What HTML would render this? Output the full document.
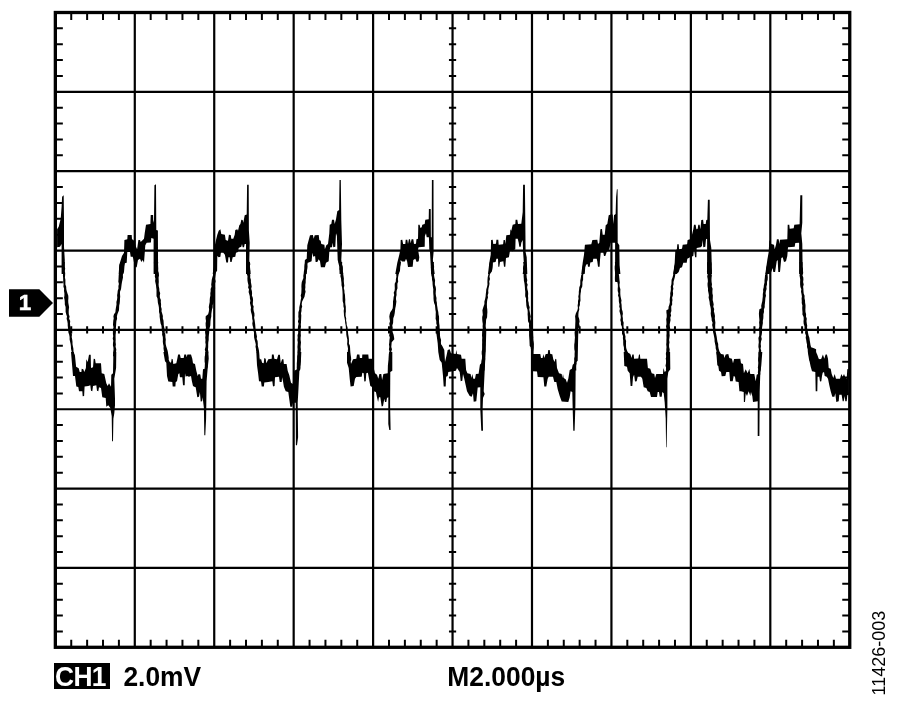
<!DOCTYPE html>
<html><head><meta charset="utf-8"><title>CH1 2.0mV M2.000µs</title>
<style>
html,body{margin:0;padding:0;background:#fff;}
body{width:900px;height:708px;position:relative;overflow:hidden;font-family:"Liberation Sans",sans-serif;color:#000;}
.t{position:absolute;white-space:nowrap;font-weight:bold;font-size:26.4px;line-height:26.4px;}
.s{transform:scaleY(1.045);transform-origin:0 22.35px;}
#ch{left:53.5px;top:662.7px;width:56px;height:26.6px;background:#000;}
#ch span{position:absolute;left:1.6px;top:1.25px;letter-spacing:-0.7px;color:#fff;}
#mv{left:123.4px;top:663.65px;}
#tb{left:447.3px;top:663.65px;}
#one{left:18.8px;top:292.3px;font-size:22.5px;line-height:22.5px;color:#fff;-webkit-text-stroke:0.5px #fff;}
#id{left:878.5px;top:652.9px;font-weight:normal;font-size:18px;line-height:18px;transform:translate(-50%,-50%) rotate(-90deg);}
</style></head><body>
<svg width="900" height="708" viewBox="0 0 900 708" style="position:absolute;left:0;top:0"><path d="M134.79 12.5 V647.3 M214.23 12.5 V647.3 M293.67 12.5 V647.3 M373.11 12.5 V647.3 M452.55 12.5 V647.3 M531.99 12.5 V647.3 M611.43 12.5 V647.3 M690.87 12.5 V647.3 M770.31 12.5 V647.3 M55.35 91.85 H849.75 M55.35 171.20 H849.75 M55.35 250.55 H849.75 M55.35 329.90 H849.75 M55.35 409.25 H849.75 M55.35 488.60 H849.75 M55.35 567.95 H849.75" stroke="#000" stroke-width="2.2" fill="none"/>
<path d="M71.24 12.5 v7.5 M71.24 647.3 v-7.5 M71.24 326.30 v7.2 M87.13 12.5 v7.5 M87.13 647.3 v-7.5 M87.13 326.30 v7.2 M103.01 12.5 v7.5 M103.01 647.3 v-7.5 M103.01 326.30 v7.2 M118.90 12.5 v7.5 M118.90 647.3 v-7.5 M118.90 326.30 v7.2 M150.68 12.5 v7.5 M150.68 647.3 v-7.5 M150.68 326.30 v7.2 M166.57 12.5 v7.5 M166.57 647.3 v-7.5 M166.57 326.30 v7.2 M182.45 12.5 v7.5 M182.45 647.3 v-7.5 M182.45 326.30 v7.2 M198.34 12.5 v7.5 M198.34 647.3 v-7.5 M198.34 326.30 v7.2 M230.12 12.5 v7.5 M230.12 647.3 v-7.5 M230.12 326.30 v7.2 M246.01 12.5 v7.5 M246.01 647.3 v-7.5 M246.01 326.30 v7.2 M261.89 12.5 v7.5 M261.89 647.3 v-7.5 M261.89 326.30 v7.2 M277.78 12.5 v7.5 M277.78 647.3 v-7.5 M277.78 326.30 v7.2 M309.56 12.5 v7.5 M309.56 647.3 v-7.5 M309.56 326.30 v7.2 M325.45 12.5 v7.5 M325.45 647.3 v-7.5 M325.45 326.30 v7.2 M341.33 12.5 v7.5 M341.33 647.3 v-7.5 M341.33 326.30 v7.2 M357.22 12.5 v7.5 M357.22 647.3 v-7.5 M357.22 326.30 v7.2 M389.00 12.5 v7.5 M389.00 647.3 v-7.5 M389.00 326.30 v7.2 M404.89 12.5 v7.5 M404.89 647.3 v-7.5 M404.89 326.30 v7.2 M420.77 12.5 v7.5 M420.77 647.3 v-7.5 M420.77 326.30 v7.2 M436.66 12.5 v7.5 M436.66 647.3 v-7.5 M436.66 326.30 v7.2 M468.44 12.5 v7.5 M468.44 647.3 v-7.5 M468.44 326.30 v7.2 M484.33 12.5 v7.5 M484.33 647.3 v-7.5 M484.33 326.30 v7.2 M500.21 12.5 v7.5 M500.21 647.3 v-7.5 M500.21 326.30 v7.2 M516.10 12.5 v7.5 M516.10 647.3 v-7.5 M516.10 326.30 v7.2 M547.88 12.5 v7.5 M547.88 647.3 v-7.5 M547.88 326.30 v7.2 M563.77 12.5 v7.5 M563.77 647.3 v-7.5 M563.77 326.30 v7.2 M579.65 12.5 v7.5 M579.65 647.3 v-7.5 M579.65 326.30 v7.2 M595.54 12.5 v7.5 M595.54 647.3 v-7.5 M595.54 326.30 v7.2 M627.32 12.5 v7.5 M627.32 647.3 v-7.5 M627.32 326.30 v7.2 M643.21 12.5 v7.5 M643.21 647.3 v-7.5 M643.21 326.30 v7.2 M659.09 12.5 v7.5 M659.09 647.3 v-7.5 M659.09 326.30 v7.2 M674.98 12.5 v7.5 M674.98 647.3 v-7.5 M674.98 326.30 v7.2 M706.76 12.5 v7.5 M706.76 647.3 v-7.5 M706.76 326.30 v7.2 M722.65 12.5 v7.5 M722.65 647.3 v-7.5 M722.65 326.30 v7.2 M738.53 12.5 v7.5 M738.53 647.3 v-7.5 M738.53 326.30 v7.2 M754.42 12.5 v7.5 M754.42 647.3 v-7.5 M754.42 326.30 v7.2 M786.20 12.5 v7.5 M786.20 647.3 v-7.5 M786.20 326.30 v7.2 M802.09 12.5 v7.5 M802.09 647.3 v-7.5 M802.09 326.30 v7.2 M817.97 12.5 v7.5 M817.97 647.3 v-7.5 M817.97 326.30 v7.2 M833.86 12.5 v7.5 M833.86 647.3 v-7.5 M833.86 326.30 v7.2 M55.35 28.37 h7.5 M849.75 28.37 h-7.5 M448.95 28.37 h7.2 M55.35 44.24 h7.5 M849.75 44.24 h-7.5 M448.95 44.24 h7.2 M55.35 60.11 h7.5 M849.75 60.11 h-7.5 M448.95 60.11 h7.2 M55.35 75.98 h7.5 M849.75 75.98 h-7.5 M448.95 75.98 h7.2 M55.35 107.72 h7.5 M849.75 107.72 h-7.5 M448.95 107.72 h7.2 M55.35 123.59 h7.5 M849.75 123.59 h-7.5 M448.95 123.59 h7.2 M55.35 139.46 h7.5 M849.75 139.46 h-7.5 M448.95 139.46 h7.2 M55.35 155.33 h7.5 M849.75 155.33 h-7.5 M448.95 155.33 h7.2 M55.35 187.07 h7.5 M849.75 187.07 h-7.5 M448.95 187.07 h7.2 M55.35 202.94 h7.5 M849.75 202.94 h-7.5 M448.95 202.94 h7.2 M55.35 218.81 h7.5 M849.75 218.81 h-7.5 M448.95 218.81 h7.2 M55.35 234.68 h7.5 M849.75 234.68 h-7.5 M448.95 234.68 h7.2 M55.35 266.42 h7.5 M849.75 266.42 h-7.5 M448.95 266.42 h7.2 M55.35 282.29 h7.5 M849.75 282.29 h-7.5 M448.95 282.29 h7.2 M55.35 298.16 h7.5 M849.75 298.16 h-7.5 M448.95 298.16 h7.2 M55.35 314.03 h7.5 M849.75 314.03 h-7.5 M448.95 314.03 h7.2 M55.35 345.77 h7.5 M849.75 345.77 h-7.5 M448.95 345.77 h7.2 M55.35 361.64 h7.5 M849.75 361.64 h-7.5 M448.95 361.64 h7.2 M55.35 377.51 h7.5 M849.75 377.51 h-7.5 M448.95 377.51 h7.2 M55.35 393.38 h7.5 M849.75 393.38 h-7.5 M448.95 393.38 h7.2 M55.35 425.12 h7.5 M849.75 425.12 h-7.5 M448.95 425.12 h7.2 M55.35 440.99 h7.5 M849.75 440.99 h-7.5 M448.95 440.99 h7.2 M55.35 456.86 h7.5 M849.75 456.86 h-7.5 M448.95 456.86 h7.2 M55.35 472.73 h7.5 M849.75 472.73 h-7.5 M448.95 472.73 h7.2 M55.35 504.47 h7.5 M849.75 504.47 h-7.5 M448.95 504.47 h7.2 M55.35 520.34 h7.5 M849.75 520.34 h-7.5 M448.95 520.34 h7.2 M55.35 536.21 h7.5 M849.75 536.21 h-7.5 M448.95 536.21 h7.2 M55.35 552.08 h7.5 M849.75 552.08 h-7.5 M448.95 552.08 h7.2 M55.35 583.82 h7.5 M849.75 583.82 h-7.5 M448.95 583.82 h7.2 M55.35 599.69 h7.5 M849.75 599.69 h-7.5 M448.95 599.69 h7.2 M55.35 615.56 h7.5 M849.75 615.56 h-7.5 M448.95 615.56 h7.2 M55.35 631.43 h7.5 M849.75 631.43 h-7.5 M448.95 631.43 h7.2" stroke="#000" stroke-width="2" fill="none"/>
<rect x="55.35" y="12.5" width="794.4" height="634.8" fill="none" stroke="#000" stroke-width="3.3"/>
<path d="M118.7 274.0 L119.3 264.7 L122.0 256.0 L124.0 252.7 L124.4 240.0 L127.3 239.3 L127.6 234.9 L131.7 234.9 L132.0 239.3 L133.6 240.0 L136.0 246.7 L137.1 249.3 L138.4 240.0 L140.0 240.0 L140.7 242.0 L142.0 240.7 L144.0 238.7 L144.7 233.3 L146.0 224.7 L150.4 224.0 L150.7 214.9 L153.1 214.9 L153.3 222.7 L154.0 220.0 L154.4 185.3 L156.0 184.3 L156.3 230.0 L157.9 230.4 L158.1 274.0 L153.6 274.0 L153.6 238.7 L151.3 238.0 L150.9 242.4 L146.7 242.7 L145.3 245.3 L144.0 262.7 L142.7 260.0 L141.3 262.0 L140.0 258.7 L138.0 260.0 L136.7 267.3 L134.9 267.3 L133.3 258.7 L132.7 256.7 L130.7 256.7 L130.0 252.0 L127.3 252.0 L126.7 262.7 L124.7 263.3 L124.0 272.0 L123.3 274.0Z M71.0 352.0 L73.7 352.0 L75.0 356.0 L76.1 366.7 L78.7 368.3 L79.7 372.0 L81.4 372.0 L81.7 368.7 L83.3 369.3 L84.3 372.0 L85.9 368.0 L86.3 359.3 L87.7 362.0 L89.0 354.7 L90.7 354.7 L91.0 368.0 L93.0 367.3 L93.7 358.7 L95.0 358.9 L95.7 363.3 L101.0 363.3 L101.7 373.3 L104.3 374.0 L106.3 383.3 L107.7 386.0 L109.0 383.3 L111.0 386.7 L111.3 374.7 L113.0 373.3 L113.4 352.0 L116.3 352.0 L116.1 368.0 L114.3 378.7 L115.0 398.7 L115.0 405.3 L114.3 413.3 L113.4 418.7 L113.0 441.3 L112.1 441.3 L111.7 416.0 L110.3 408.0 L108.3 405.3 L106.3 406.7 L105.7 398.0 L102.3 397.3 L101.0 388.0 L99.0 387.3 L98.3 391.3 L97.0 390.7 L96.3 385.3 L93.0 386.0 L92.3 391.3 L91.0 390.7 L90.3 385.3 L88.3 386.0 L84.6 386.4 L84.1 396.0 L82.7 396.3 L82.3 391.3 L79.0 391.3 L78.3 386.9 L76.3 386.4 L75.0 376.0 L73.0 376.0 L72.1 365.3Z M57.1 229.3 L58.7 226.7 L60.7 218.7 L61.6 206.7 L62.1 196.7 L63.7 195.3 L64.0 220.0 L64.0 246.7 L64.8 260.0 L64.5 274.0 L61.6 274.0 L61.6 244.0 L60.0 246.7 L57.1 247.3Z M212.7 274.0 L213.7 266.7 L214.0 249.3 L216.0 240.0 L217.3 234.7 L218.7 230.7 L220.4 229.3 L221.3 234.0 L224.9 234.7 L225.7 240.0 L228.0 240.7 L228.9 234.7 L230.7 234.9 L231.3 238.7 L233.3 238.7 L234.7 234.7 L235.3 230.0 L237.3 229.3 L238.0 230.7 L239.3 225.3 L240.4 224.0 L241.3 219.7 L242.7 220.0 L243.3 222.7 L244.7 215.3 L246.7 214.4 L247.1 184.7 L248.7 184.7 L248.9 230.7 L249.7 242.7 L249.3 260.0 L250.7 274.0 L246.0 274.0 L246.0 244.0 L244.7 244.0 L244.0 247.3 L242.7 247.3 L242.0 244.0 L241.3 246.7 L240.0 247.3 L238.7 248.0 L238.0 252.0 L236.0 252.7 L235.3 256.7 L232.7 257.3 L231.6 262.0 L230.3 262.0 L229.7 257.3 L228.4 257.3 L228.0 262.4 L226.3 262.4 L224.9 254.7 L223.3 252.7 L220.9 252.7 L220.4 256.7 L218.7 257.3 L217.3 256.0 L217.1 270.7 L215.3 273.3 L215.1 274.0Z M163.4 352.0 L166.3 352.0 L167.7 357.3 L169.7 362.0 L171.0 362.7 L171.7 358.7 L172.7 359.3 L173.3 364.0 L176.3 363.3 L177.3 358.7 L178.1 354.4 L179.9 354.4 L180.7 358.0 L183.7 358.0 L184.3 354.4 L186.1 354.4 L186.6 357.3 L187.4 354.4 L191.0 354.4 L192.3 358.7 L193.0 363.3 L195.0 364.0 L196.3 370.7 L197.7 376.0 L198.6 374.0 L200.3 374.4 L201.0 378.7 L202.3 378.7 L203.0 369.3 L204.7 368.7 L205.3 352.0 L208.3 352.0 L208.7 358.7 L207.7 368.0 L206.6 381.3 L206.3 405.3 L206.1 418.7 L205.3 435.3 L204.3 435.3 L203.9 408.0 L202.6 397.3 L202.1 401.3 L200.7 401.6 L199.9 392.0 L199.0 396.7 L197.3 397.3 L195.7 387.3 L194.3 386.7 L193.0 386.0 L191.9 381.3 L191.0 376.0 L189.0 376.7 L187.0 376.0 L185.7 376.7 L185.0 373.3 L184.7 385.3 L183.0 385.3 L182.3 377.3 L179.9 377.3 L179.4 373.3 L178.3 374.0 L177.0 381.3 L175.7 382.0 L175.4 386.4 L172.7 386.4 L172.3 382.0 L168.3 381.6 L167.0 376.0 L166.3 362.7 L165.0 361.3Z M304.0 274.0 L304.9 260.0 L306.7 258.7 L307.3 245.3 L308.7 240.0 L310.0 235.3 L312.9 234.9 L313.7 238.7 L314.7 235.3 L318.7 234.9 L319.3 240.0 L320.7 240.7 L321.3 244.0 L324.4 244.7 L324.9 249.3 L326.3 245.3 L328.0 244.0 L329.3 233.3 L329.7 224.7 L331.3 224.0 L332.0 219.7 L334.0 219.7 L334.7 224.0 L336.0 219.3 L337.3 211.3 L339.1 210.0 L339.5 180.0 L340.8 180.0 L341.3 220.0 L342.0 244.0 L341.3 260.0 L343.3 274.0 L339.6 274.0 L339.3 266.7 L337.7 260.0 L336.9 236.0 L336.0 233.3 L335.3 246.7 L333.3 247.3 L332.7 242.7 L332.0 247.3 L330.3 247.3 L329.3 252.0 L328.7 261.3 L326.0 262.7 L324.9 267.3 L320.9 267.3 L320.0 261.3 L318.7 259.3 L317.3 262.0 L315.6 262.0 L315.1 256.0 L313.3 256.7 L312.4 252.7 L311.6 261.3 L308.7 262.4 L307.6 262.7 L306.7 274.0Z M256.3 352.0 L258.6 352.0 L259.7 360.0 L261.0 358.7 L262.1 362.7 L263.7 363.3 L264.3 358.0 L265.7 358.7 L266.3 363.3 L268.3 359.3 L271.7 358.7 L271.9 354.4 L273.7 354.4 L274.3 358.7 L277.0 359.3 L278.3 354.7 L279.9 354.7 L280.7 363.3 L282.1 359.3 L283.4 359.3 L283.9 364.0 L286.6 364.0 L287.7 370.7 L289.3 375.3 L291.0 382.7 L292.7 384.0 L294.3 370.7 L297.0 369.3 L297.7 352.0 L301.3 352.0 L300.7 365.3 L299.4 370.7 L298.3 392.0 L297.7 402.7 L298.1 437.3 L297.0 445.3 L295.9 445.3 L295.7 402.7 L293.0 402.7 L292.3 406.7 L290.3 406.7 L289.0 397.3 L288.3 392.0 L285.7 391.3 L283.9 386.7 L283.0 381.3 L282.1 377.3 L281.7 382.0 L279.7 382.0 L279.0 376.7 L275.0 377.3 L274.6 386.0 L273.0 386.4 L272.3 381.3 L268.3 382.0 L264.3 382.4 L263.9 386.4 L261.7 386.4 L261.0 381.6 L259.0 381.3 L258.1 373.3 L257.0 365.3Z M395.3 274.0 L397.3 262.7 L399.3 254.7 L400.4 249.3 L400.7 240.0 L402.3 239.7 L403.1 244.0 L405.3 244.0 L405.7 239.7 L407.3 239.7 L408.0 244.0 L408.9 239.3 L410.0 239.3 L410.7 243.3 L411.6 239.3 L413.3 239.3 L414.0 244.0 L416.0 243.7 L416.4 239.3 L418.0 238.7 L418.3 224.7 L419.6 224.7 L420.4 228.0 L421.7 227.3 L422.3 224.7 L424.7 224.0 L425.3 219.7 L428.7 219.3 L428.9 209.1 L430.7 209.1 L430.9 237.3 L431.7 237.3 L431.9 180.0 L433.5 180.0 L433.6 252.0 L432.9 260.0 L434.7 274.0 L431.1 274.0 L430.7 265.3 L430.0 252.0 L429.3 249.3 L428.9 237.3 L426.7 237.3 L426.0 233.3 L424.9 236.0 L424.7 246.7 L418.7 247.3 L418.0 249.3 L419.3 257.3 L418.7 261.3 L416.7 262.0 L415.3 258.7 L413.3 260.0 L412.7 266.7 L408.0 266.9 L407.1 261.3 L406.0 258.7 L404.9 261.6 L402.0 261.6 L400.7 260.0 L400.0 270.7 L398.7 274.0Z M347.0 352.0 L349.7 352.0 L351.0 364.0 L353.0 359.3 L356.3 358.7 L357.0 354.4 L359.4 354.4 L359.9 358.0 L362.1 358.0 L362.3 354.4 L368.3 354.4 L368.7 358.7 L371.9 358.7 L373.7 368.0 L375.0 373.3 L377.0 374.7 L378.3 378.7 L379.4 374.0 L381.3 374.0 L382.1 380.0 L383.4 374.0 L387.7 373.3 L387.9 365.3 L389.3 352.0 L392.3 352.0 L392.3 370.7 L390.3 372.0 L390.1 405.3 L390.6 430.0 L389.3 430.0 L388.3 424.0 L388.3 397.3 L387.0 398.0 L386.3 402.0 L385.0 402.0 L384.3 398.7 L383.0 406.0 L381.7 406.4 L380.3 397.3 L379.0 397.3 L378.1 402.0 L377.0 397.3 L375.9 392.0 L373.7 391.3 L371.7 386.7 L370.3 386.0 L369.0 378.7 L367.9 372.7 L366.3 373.3 L365.7 381.3 L364.3 381.6 L363.7 373.3 L362.3 372.7 L361.7 376.7 L356.3 377.1 L355.0 378.7 L353.7 386.0 L350.6 386.4 L349.7 378.7 L348.7 368.0 L347.0 362.7Z M488.0 274.0 L489.3 262.7 L490.7 254.7 L491.1 240.0 L492.7 239.7 L493.3 244.0 L496.0 243.7 L496.4 239.7 L498.3 239.7 L498.7 244.7 L503.1 244.3 L503.6 240.0 L504.9 240.0 L505.3 244.0 L506.3 235.3 L510.0 234.7 L510.4 229.3 L511.3 230.7 L512.7 224.7 L515.3 224.0 L515.6 219.7 L517.3 219.7 L518.0 224.0 L521.3 223.7 L522.7 212.0 L523.1 184.7 L524.9 184.7 L525.3 220.0 L525.6 252.0 L526.7 257.3 L527.3 274.0 L522.7 274.0 L524.0 265.3 L523.1 252.0 L522.7 240.0 L521.3 242.7 L520.7 246.7 L519.3 246.7 L518.7 242.7 L517.7 238.7 L515.6 238.7 L515.3 249.3 L514.0 250.0 L512.7 251.3 L510.0 250.7 L508.9 257.3 L506.0 258.0 L505.3 266.7 L504.0 266.7 L503.3 261.3 L500.0 262.0 L499.3 266.7 L498.3 266.7 L498.0 258.7 L496.4 258.7 L495.6 262.0 L492.7 262.4 L492.0 271.3 L490.0 274.0Z M581.3 274.0 L582.7 262.7 L584.0 254.7 L584.9 244.7 L591.3 244.3 L592.4 240.0 L597.3 239.7 L598.0 244.0 L599.3 242.7 L600.4 229.3 L602.0 229.1 L602.7 234.7 L604.7 234.7 L605.7 225.3 L607.3 224.0 L608.7 215.3 L610.7 214.4 L612.7 214.4 L613.3 224.0 L614.0 215.3 L615.6 214.0 L616.1 197.3 L616.9 189.3 L617.6 189.3 L617.7 242.7 L619.3 245.3 L619.6 265.3 L620.4 274.0 L615.1 274.0 L615.1 242.7 L612.7 242.7 L610.7 242.7 L609.3 249.3 L608.0 250.7 L606.7 252.0 L605.3 256.0 L604.0 256.0 L603.3 252.7 L600.7 252.7 L600.0 260.0 L599.6 266.7 L598.0 266.7 L597.3 261.3 L596.7 258.7 L593.3 258.7 L592.7 262.0 L590.3 262.4 L589.7 266.7 L588.0 266.7 L587.6 264.0 L586.0 264.7 L585.3 266.7 L584.7 274.0Z M673.3 274.0 L674.7 262.7 L675.3 250.7 L676.9 249.3 L677.3 244.3 L678.7 244.3 L679.1 249.3 L682.0 248.7 L682.7 244.7 L687.1 244.3 L687.6 240.0 L690.0 239.3 L692.0 234.7 L693.3 229.3 L694.0 224.7 L695.6 224.7 L696.4 229.3 L697.7 228.7 L698.3 224.7 L699.6 224.7 L700.4 229.3 L701.3 220.0 L703.1 219.7 L703.6 224.0 L705.7 224.0 L706.3 220.0 L707.3 219.7 L707.9 199.7 L709.7 199.7 L710.0 240.0 L711.3 248.0 L712.0 274.0 L707.1 274.0 L707.1 238.7 L706.0 239.3 L705.3 246.7 L703.3 247.3 L702.7 240.0 L702.0 246.0 L700.7 247.3 L696.7 248.0 L696.4 257.3 L695.1 257.3 L694.0 249.3 L693.3 256.0 L690.0 257.3 L687.3 258.7 L686.7 262.7 L683.3 262.7 L682.0 267.3 L680.0 268.0 L678.7 272.0 L676.7 274.0Z M623.7 352.0 L627.0 352.0 L630.3 354.0 L631.7 358.0 L632.3 354.4 L633.7 354.4 L634.1 358.7 L638.3 358.4 L639.0 354.4 L639.9 354.4 L640.3 358.7 L647.0 358.7 L647.9 368.0 L650.3 368.7 L651.7 373.3 L654.3 374.0 L655.0 378.0 L656.3 374.0 L663.0 374.0 L663.4 368.0 L664.7 372.0 L666.1 370.7 L666.3 352.0 L670.1 352.0 L670.3 369.3 L668.3 372.0 L667.4 378.7 L667.4 408.0 L667.0 426.7 L666.6 447.3 L666.1 447.3 L665.7 418.7 L664.7 402.7 L663.7 393.3 L662.3 392.0 L661.7 396.7 L659.7 396.7 L659.0 392.0 L657.7 392.0 L657.0 397.1 L651.0 397.1 L649.7 392.0 L647.7 391.3 L646.3 388.0 L643.7 387.3 L642.3 378.7 L641.0 376.7 L637.7 376.7 L636.7 381.3 L635.0 381.6 L634.1 374.7 L633.0 377.3 L632.3 386.0 L630.6 386.0 L629.7 373.3 L627.7 370.7 L627.0 366.7 L624.3 366.0Z M765.3 274.0 L767.3 260.0 L768.7 252.0 L769.3 240.0 L771.3 244.0 L774.0 244.7 L774.7 249.3 L776.0 244.7 L776.9 239.3 L778.7 239.3 L779.3 244.0 L780.0 239.7 L787.3 239.3 L787.7 224.7 L789.3 224.7 L789.7 228.7 L793.7 228.3 L794.3 224.7 L799.6 224.3 L800.3 195.3 L802.3 195.3 L802.3 222.7 L801.3 233.3 L802.3 244.0 L802.7 274.0 L799.1 274.0 L799.1 242.7 L795.3 242.9 L794.7 246.7 L788.0 247.3 L787.3 256.0 L786.0 261.3 L784.0 262.0 L782.7 257.3 L781.3 258.0 L780.0 272.0 L778.3 272.0 L777.7 260.0 L776.7 261.3 L775.1 272.0 L773.3 272.0 L772.7 268.0 L770.7 273.3 L769.3 274.0Z M716.3 352.0 L719.7 352.0 L721.0 354.0 L723.7 354.4 L724.3 358.0 L725.7 354.4 L728.3 354.0 L729.3 358.0 L731.9 358.7 L733.0 363.3 L734.1 358.9 L740.3 358.7 L741.0 363.3 L743.0 364.0 L743.9 373.3 L745.7 369.3 L747.7 373.3 L749.3 368.7 L750.3 374.0 L754.3 374.0 L755.7 381.3 L756.7 374.7 L758.1 374.0 L758.6 352.0 L762.3 352.0 L761.3 365.3 L760.3 373.3 L759.7 392.0 L759.4 436.0 L757.7 436.0 L757.7 401.3 L753.0 402.0 L752.3 396.0 L751.0 392.0 L750.3 396.0 L748.7 391.3 L747.0 396.0 L745.7 393.3 L745.0 402.0 L743.9 402.0 L743.7 392.0 L741.0 391.3 L739.4 391.3 L738.6 382.0 L735.7 381.6 L735.0 376.7 L733.7 376.0 L732.7 381.3 L730.1 381.3 L729.3 372.0 L726.3 372.0 L725.3 376.0 L721.7 376.3 L721.0 372.0 L719.0 370.7 L718.3 366.0 L717.3 365.3Z M808.7 352.0 L816.0 352.0 L817.3 354.7 L818.7 358.7 L820.0 359.3 L821.3 358.7 L822.9 354.4 L824.3 358.7 L825.6 354.4 L826.9 354.4 L828.0 358.7 L828.7 368.0 L830.7 368.7 L831.7 374.0 L833.3 378.0 L834.7 374.0 L836.0 378.7 L840.0 378.7 L841.3 374.0 L842.7 376.7 L844.0 374.0 L845.3 377.3 L846.7 378.7 L847.3 369.3 L848.7 368.7 L848.7 394.7 L847.3 395.3 L846.7 401.3 L845.3 401.3 L844.7 396.0 L843.7 401.3 L842.7 401.3 L841.6 394.7 L839.3 394.7 L838.7 401.3 L836.3 402.0 L835.3 393.3 L834.4 396.7 L832.3 396.7 L830.7 391.3 L829.3 385.3 L828.0 378.7 L826.7 376.7 L824.7 376.0 L824.0 372.0 L822.7 372.7 L822.0 376.0 L821.3 381.3 L820.0 381.6 L819.3 376.7 L817.6 376.7 L817.3 391.3 L815.7 391.3 L815.3 372.0 L812.0 371.3 L810.7 366.7 L809.3 360.0Z M436.3 332.7 L439.7 332.7 L440.3 343.3 L442.3 346.0 L444.3 350.0 L445.0 362.0 L446.6 355.3 L447.7 350.0 L449.7 349.3 L451.0 353.3 L455.7 354.0 L456.3 350.0 L457.0 354.0 L461.0 354.7 L461.7 358.7 L465.3 358.7 L466.1 370.0 L467.4 373.3 L470.6 374.0 L471.4 378.0 L472.3 374.0 L473.3 378.7 L475.0 378.7 L475.9 374.0 L478.6 373.7 L479.9 364.7 L481.7 362.7 L482.3 351.3 L482.6 330.0 L486.3 330.0 L485.7 351.3 L484.7 370.0 L483.7 391.3 L484.7 394.0 L483.0 398.0 L482.6 410.0 L483.0 430.7 L481.3 430.7 L480.3 409.3 L480.3 387.3 L477.7 387.6 L476.3 401.3 L473.7 401.7 L473.0 393.3 L471.7 396.7 L469.7 396.0 L467.0 391.3 L465.7 385.3 L464.3 378.7 L463.0 374.0 L462.3 380.7 L460.7 381.3 L459.7 372.0 L457.0 368.0 L455.9 370.7 L453.0 371.3 L448.3 372.0 L447.7 376.0 L446.1 376.7 L445.7 386.4 L443.7 386.4 L443.0 376.0 L441.7 362.7 L439.7 360.0 L438.3 352.0 L437.7 343.3Z M529.0 330.0 L533.0 330.0 L533.7 347.3 L533.0 354.0 L540.3 354.0 L541.0 358.0 L542.6 358.0 L543.4 354.0 L544.3 358.0 L545.7 354.0 L547.7 354.0 L548.3 350.0 L549.7 350.0 L550.3 354.0 L552.3 354.3 L553.3 359.3 L554.6 362.0 L555.4 358.7 L556.3 359.3 L557.0 368.0 L559.0 373.3 L561.7 374.0 L562.3 378.0 L563.0 374.0 L563.7 378.0 L565.7 379.3 L567.0 382.7 L568.3 378.7 L569.7 370.0 L571.9 368.7 L572.7 364.7 L574.6 363.3 L575.0 330.0 L578.3 330.0 L577.7 360.7 L575.7 362.7 L575.4 405.3 L574.6 430.7 L573.3 430.7 L572.7 409.3 L572.3 392.0 L570.6 391.3 L569.7 397.3 L568.3 402.0 L561.7 401.6 L559.7 396.0 L557.7 389.3 L556.3 382.0 L554.3 382.0 L553.0 376.7 L548.7 376.7 L547.7 378.7 L546.3 386.4 L544.3 386.4 L543.4 377.3 L537.7 377.1 L537.0 371.6 L533.0 371.3 L532.3 356.7 L531.0 347.3 L529.7 346.0Z" fill="#000" stroke="#000" stroke-width="0" stroke-linejoin="round"/>
<path d="M62.2 262.0 L64.8 262.0 L64.7 264.2 L64.7 266.5 L65.2 268.7 L64.7 270.9 L65.2 273.1 L65.1 275.4 L64.9 277.6 L65.4 279.8 L65.4 282.1 L65.4 284.4 L66.2 286.7 L66.3 288.9 L66.8 291.2 L67.5 293.5 L68.3 295.8 L68.4 298.1 L68.2 300.4 L68.3 302.7 L68.7 305.0 L69.1 307.3 L68.8 309.6 L68.7 311.9 L68.8 314.2 L69.6 316.5 L69.1 318.8 L70.2 321.1 L70.0 323.4 L70.2 325.6 L70.6 327.9 L71.3 330.2 L71.3 332.5 L72.0 334.8 L71.7 337.1 L72.2 339.4 L72.5 341.7 L72.5 344.0 L72.9 346.3 L73.4 348.8 L73.5 351.3 L74.0 353.8 L74.9 356.3 L72.7 358.3 L72.0 355.9 L72.1 353.5 L71.5 351.1 L71.0 348.7 L70.9 346.3 L70.6 344.0 L70.1 341.7 L69.6 339.4 L69.6 337.1 L69.2 334.8 L68.4 332.5 L68.2 330.2 L68.0 327.9 L67.7 325.6 L67.7 323.4 L67.3 321.1 L66.6 318.8 L67.0 316.5 L66.2 314.2 L65.6 311.8 L65.6 309.4 L65.6 307.0 L64.8 304.5 L64.8 302.1 L64.6 299.9 L64.1 297.7 L64.4 295.4 L64.4 293.2 L64.0 291.0 L64.1 288.8 L63.4 286.5 L63.6 284.3 L63.2 282.1 L63.2 279.8 L63.1 277.6 L62.9 275.4 L63.1 273.1 L63.1 270.9 L62.5 268.7 L62.6 266.5 L61.9 264.2Z M113.0 356.3 L113.2 354.1 L113.2 351.9 L113.5 349.6 L113.4 347.4 L112.9 345.2 L113.0 342.9 L113.3 340.7 L112.7 338.5 L113.2 336.3 L112.9 334.0 L112.9 331.8 L112.9 329.6 L113.5 327.3 L113.0 325.1 L113.1 322.9 L113.3 320.6 L113.7 318.4 L113.4 316.2 L114.0 314.2 L115.4 312.2 L115.6 309.7 L116.0 307.2 L116.5 304.6 L116.4 302.1 L117.0 299.8 L117.3 297.5 L117.1 295.3 L117.5 293.0 L117.7 290.7 L118.5 288.4 L118.4 286.1 L118.9 283.9 L118.3 281.6 L118.5 279.4 L118.6 277.2 L118.7 274.9 L119.1 272.7 L119.3 270.5 L119.1 268.2 L119.4 266.0 L120.4 262.0 L125.0 262.0 L124.0 266.0 L123.3 268.3 L123.4 270.6 L123.1 272.9 L122.9 275.2 L123.0 277.5 L122.5 279.8 L122.0 282.1 L121.6 284.5 L121.3 286.9 L121.0 289.3 L120.0 291.7 L120.0 294.1 L120.2 296.4 L120.0 298.7 L119.9 301.0 L119.7 303.3 L119.2 305.6 L119.1 307.9 L119.0 310.2 L117.4 314.2 L116.9 316.5 L117.1 318.8 L116.4 321.1 L116.2 323.4 L116.1 325.6 L115.9 327.9 L116.0 330.2 L115.9 332.6 L115.6 335.0 L115.6 337.3 L115.7 339.7 L115.6 342.1 L115.9 344.5 L115.6 346.8 L116.3 349.2 L116.1 351.6 L115.7 353.9 L116.0 356.3Z M153.9 262.0 L158.2 262.0 L158.0 264.2 L158.1 266.5 L158.2 268.7 L158.1 270.9 L158.8 273.1 L159.0 275.4 L158.6 277.6 L158.7 279.8 L158.8 282.1 L158.6 284.3 L158.8 286.5 L159.3 288.8 L159.4 291.0 L160.2 293.2 L159.8 295.4 L159.9 297.7 L160.9 299.9 L160.8 302.1 L161.1 304.4 L161.0 306.7 L161.7 309.0 L161.5 311.3 L162.2 313.6 L162.9 315.9 L162.8 318.2 L163.5 320.6 L163.7 323.0 L163.8 325.4 L164.3 327.8 L164.8 330.2 L164.7 332.5 L165.4 334.8 L165.4 337.1 L165.8 339.4 L165.6 341.7 L165.7 344.0 L166.2 346.3 L167.0 348.7 L167.7 351.1 L168.1 353.5 L168.5 355.9 L168.8 358.3 L167.9 360.3 L166.4 362.3 L166.2 360.0 L165.3 357.8 L165.2 355.5 L164.6 353.2 L163.9 350.9 L163.5 348.6 L163.6 346.3 L163.1 344.0 L162.8 341.7 L162.9 339.4 L162.8 337.1 L162.1 334.8 L162.2 332.5 L161.6 330.2 L161.7 327.9 L161.4 325.6 L160.6 323.4 L160.2 321.1 L159.9 318.8 L159.6 316.5 L159.6 314.2 L159.0 311.9 L159.0 309.7 L158.9 307.5 L158.5 305.3 L157.9 303.0 L157.7 300.8 L157.5 298.6 L156.5 296.3 L156.5 294.1 L156.5 291.9 L156.5 289.7 L156.2 287.5 L156.0 285.3 L155.5 283.1 L155.1 280.9 L155.4 278.7 L154.8 276.4 L155.0 274.2 L154.5 272.0 L154.8 269.5 L154.1 267.0 L154.0 264.5Z M204.7 368.4 L205.2 366.0 L205.0 363.6 L204.6 361.2 L204.6 358.9 L204.7 356.5 L205.4 354.1 L205.4 351.8 L204.8 349.4 L205.5 347.0 L205.7 344.6 L205.3 342.3 L205.5 339.9 L205.2 337.5 L205.5 335.2 L205.1 332.8 L205.1 330.4 L206.0 328.0 L205.7 325.7 L205.6 323.3 L206.0 320.9 L205.6 318.6 L205.7 316.2 L208.1 314.2 L208.8 311.8 L209.1 309.4 L208.8 307.0 L209.2 304.5 L209.7 302.1 L209.7 299.9 L209.9 297.7 L210.4 295.5 L210.3 293.3 L210.7 291.1 L210.6 288.9 L211.5 286.7 L211.2 284.5 L211.5 282.3 L211.7 280.1 L212.3 277.6 L213.1 275.0 L213.2 272.5 L213.7 270.0 L214.2 267.4 L214.0 264.7 L214.1 262.0 L217.0 262.0 L216.7 264.4 L216.5 266.8 L215.8 269.2 L215.9 271.6 L215.7 274.0 L215.3 276.4 L215.0 278.9 L215.6 281.3 L214.9 283.7 L215.0 286.1 L215.1 288.5 L214.8 290.9 L214.5 293.3 L214.5 295.7 L214.3 298.1 L214.0 300.4 L213.7 302.7 L212.7 305.0 L212.7 307.3 L212.0 309.6 L211.6 311.9 L211.3 314.2 L211.3 316.5 L210.8 318.8 L210.5 321.1 L210.4 323.4 L210.3 325.6 L209.6 327.9 L209.3 330.2 L209.2 332.6 L208.9 335.0 L208.7 337.5 L208.7 339.9 L208.3 342.3 L208.2 344.6 L208.2 347.0 L208.0 349.4 L208.4 351.8 L208.0 354.1 L208.1 356.5 L208.1 358.9 L207.4 361.2 L207.6 363.6 L207.8 366.0 L207.3 368.4Z M246.2 262.0 L249.9 262.0 L250.3 264.2 L249.7 266.5 L249.8 268.7 L250.2 270.9 L250.0 273.1 L250.3 275.4 L250.2 277.6 L250.9 279.8 L250.9 282.1 L251.3 284.3 L251.7 286.5 L251.2 288.8 L251.9 291.0 L252.1 293.2 L251.9 295.4 L252.8 297.7 L253.1 299.9 L252.9 302.1 L252.8 304.4 L253.7 306.6 L253.4 308.8 L253.7 311.1 L254.4 313.3 L254.5 315.5 L254.1 317.7 L254.6 320.0 L254.9 322.2 L255.2 324.6 L255.4 327.0 L255.6 329.4 L256.0 331.8 L256.5 334.2 L257.0 336.5 L256.7 338.8 L257.6 341.1 L257.8 343.4 L257.8 345.7 L258.4 348.0 L258.9 350.3 L259.2 352.8 L259.4 355.3 L259.2 357.8 L259.9 360.3 L257.7 360.3 L257.8 358.1 L257.3 355.8 L257.2 353.6 L256.1 351.3 L256.0 349.0 L255.5 346.8 L255.8 344.5 L255.3 342.3 L254.7 339.9 L254.1 337.5 L254.0 335.0 L254.0 332.6 L253.3 330.2 L253.3 327.9 L252.6 325.6 L252.3 323.4 L252.7 321.1 L252.2 318.8 L252.1 316.5 L251.7 314.2 L251.0 311.9 L250.7 309.7 L251.0 307.5 L250.5 305.3 L249.9 303.0 L250.4 300.8 L249.9 298.6 L249.8 296.3 L249.2 294.1 L248.6 291.9 L249.0 289.6 L248.1 287.4 L248.5 285.2 L247.9 283.0 L247.5 280.7 L247.4 278.5 L247.5 276.3 L246.8 274.0 L246.5 271.6 L246.3 269.2 L246.5 266.8 L246.1 264.4Z M297.0 370.4 L296.7 368.0 L296.8 365.7 L296.8 363.3 L297.0 361.0 L297.2 358.7 L297.2 356.3 L297.7 354.0 L297.4 351.6 L297.6 349.3 L297.4 347.0 L297.6 344.6 L297.8 342.3 L297.4 340.0 L297.7 337.6 L297.5 335.3 L298.2 333.0 L298.1 330.7 L297.8 328.4 L298.1 326.1 L298.6 323.7 L297.9 321.4 L298.6 319.1 L298.3 316.8 L298.4 314.5 L298.4 312.2 L299.2 309.7 L299.3 307.2 L299.9 304.6 L300.4 302.1 L300.7 299.9 L301.2 297.7 L300.7 295.4 L301.3 293.2 L301.4 291.0 L301.5 288.8 L301.4 286.5 L301.5 284.3 L301.8 282.1 L303.4 278.1 L303.3 275.8 L303.7 273.5 L303.9 271.2 L304.8 268.9 L304.6 266.6 L304.8 264.3 L305.4 262.0 L307.4 262.0 L306.9 264.3 L307.4 266.6 L307.2 268.9 L306.8 271.2 L306.2 273.5 L306.0 275.8 L306.0 278.1 L305.7 280.3 L305.7 282.6 L305.3 284.9 L305.4 287.2 L305.1 289.5 L305.6 291.8 L305.0 294.1 L304.5 296.8 L303.1 299.5 L302.0 302.1 L301.7 304.4 L302.2 306.6 L301.5 308.8 L301.5 311.1 L301.0 313.3 L301.3 315.5 L301.2 317.7 L301.1 320.0 L301.0 322.2 L300.8 324.4 L301.0 326.7 L300.6 328.9 L300.8 331.1 L300.7 333.4 L300.9 335.6 L300.6 337.8 L300.6 340.0 L301.0 342.3 L300.8 344.6 L300.6 347.0 L300.9 349.3 L300.7 351.6 L300.8 354.0 L300.7 356.3 L300.6 358.7 L300.7 361.0 L300.2 363.3 L300.0 365.7 L300.5 368.0 L300.0 370.4Z M338.6 262.0 L342.2 262.0 L342.1 264.4 L342.8 266.8 L342.9 269.2 L342.6 271.6 L343.2 274.0 L343.6 276.4 L343.9 278.7 L343.8 281.1 L344.0 283.4 L344.3 285.7 L343.8 288.1 L344.4 290.4 L344.5 292.8 L345.0 295.1 L345.1 297.5 L345.3 299.8 L345.2 302.1 L345.4 304.4 L345.8 306.7 L345.8 309.0 L345.9 311.3 L345.6 313.6 L345.6 315.9 L346.2 318.2 L346.1 320.5 L346.6 322.8 L346.7 325.1 L347.6 327.4 L347.7 329.7 L348.0 332.0 L348.2 334.2 L348.6 336.5 L348.9 338.8 L349.0 341.1 L348.9 343.4 L349.9 345.7 L350.1 348.0 L350.2 350.3 L350.4 352.8 L350.7 355.3 L351.1 357.8 L351.2 360.3 L349.0 362.3 L348.4 360.0 L348.8 357.8 L348.2 355.5 L347.8 353.2 L347.8 350.9 L348.0 348.6 L347.6 346.3 L347.1 344.0 L347.3 341.7 L347.3 339.4 L346.7 337.1 L346.3 334.8 L346.2 332.5 L346.0 330.2 L345.9 327.8 L345.7 325.4 L345.2 323.0 L345.0 320.6 L344.6 318.2 L344.0 315.8 L343.9 313.4 L343.7 311.0 L344.0 308.6 L343.4 306.2 L343.4 303.7 L342.7 301.3 L342.6 298.9 L342.6 296.5 L342.6 294.1 L342.5 291.9 L342.3 289.6 L342.1 287.4 L341.5 285.2 L341.5 283.0 L341.2 280.7 L341.0 278.5 L340.4 276.3 L340.6 274.0 L340.5 271.6 L339.5 269.2 L339.8 266.8 L339.3 264.4Z M388.7 370.4 L388.3 368.0 L388.8 365.7 L389.2 363.3 L389.3 361.0 L388.9 358.7 L388.8 356.3 L388.8 354.0 L389.5 351.6 L388.9 349.3 L389.3 347.0 L389.0 344.6 L389.3 342.3 L389.4 339.9 L389.8 337.6 L389.1 335.2 L389.7 332.9 L389.5 330.6 L389.9 328.2 L389.7 325.9 L389.3 323.5 L390.0 321.2 L389.6 318.9 L389.3 316.5 L389.7 314.2 L390.3 312.2 L391.7 310.2 L392.7 308.2 L392.9 305.9 L393.0 303.7 L393.0 301.5 L393.4 299.3 L393.6 297.1 L394.2 294.9 L393.7 292.7 L394.6 290.5 L394.8 288.3 L394.7 286.1 L394.7 283.7 L395.8 281.4 L395.9 279.1 L396.4 276.7 L396.2 274.4 L396.7 272.0 L397.1 269.5 L397.7 267.0 L398.7 264.5 L398.8 262.0 L401.0 262.0 L400.5 264.7 L399.8 267.4 L399.4 270.0 L399.0 272.3 L398.6 274.6 L398.1 276.9 L397.9 279.2 L398.2 281.5 L397.4 283.8 L397.4 286.1 L397.5 288.3 L396.7 290.5 L396.5 292.7 L396.6 294.9 L396.1 297.1 L396.0 299.3 L396.4 301.5 L396.1 303.7 L395.8 305.9 L395.3 308.2 L395.0 310.7 L394.7 313.2 L394.2 315.7 L393.3 318.2 L393.2 320.6 L393.1 323.0 L392.3 325.4 L392.7 327.8 L392.3 330.2 L392.8 332.5 L393.6 334.7 L394.0 337.0 L394.3 339.3 L391.7 342.3 L391.5 344.6 L391.3 347.0 L392.0 349.3 L391.3 351.6 L391.5 354.0 L391.4 356.3 L391.3 358.7 L391.7 361.0 L391.9 363.3 L391.2 365.7 L391.5 368.0 L391.3 370.4Z M430.9 262.0 L433.9 262.0 L433.8 264.3 L434.1 266.6 L434.0 268.9 L433.9 271.2 L434.0 273.5 L434.1 275.8 L434.5 278.1 L435.1 280.3 L434.9 282.5 L434.9 284.7 L435.7 287.0 L436.0 289.2 L435.8 291.4 L435.7 293.7 L436.0 295.9 L436.5 298.1 L436.4 300.4 L436.9 302.7 L437.0 305.0 L437.4 307.3 L437.7 309.6 L438.3 311.9 L438.5 314.2 L439.0 316.5 L439.1 318.8 L439.0 321.1 L439.2 323.4 L439.5 325.6 L439.6 327.9 L439.9 330.2 L439.9 332.6 L439.9 335.0 L440.3 337.5 L441.1 339.9 L440.9 342.3 L441.1 344.8 L441.9 347.3 L442.5 349.8 L442.9 352.3 L442.1 355.3 L440.7 358.3 L440.1 355.9 L439.8 353.5 L439.4 351.1 L439.2 348.7 L438.9 346.3 L438.5 344.0 L438.7 341.7 L438.3 339.4 L438.1 337.1 L437.0 334.8 L436.7 332.5 L436.9 330.2 L436.9 327.9 L436.9 325.6 L436.3 323.4 L436.3 321.1 L435.6 318.8 L435.7 316.5 L435.7 314.2 L435.8 311.9 L435.4 309.7 L435.2 307.5 L435.0 305.3 L434.1 303.0 L433.7 300.8 L433.5 298.6 L433.5 296.3 L433.3 294.1 L433.2 291.7 L433.3 289.3 L432.9 286.9 L432.6 284.5 L432.5 282.1 L432.0 279.7 L431.9 277.3 L431.2 274.8 L431.7 272.4 L431.3 270.0 L430.9 267.4 L431.4 264.7Z M481.4 370.4 L481.6 368.0 L481.4 365.7 L481.3 363.3 L481.5 361.0 L482.0 358.7 L482.1 356.3 L481.7 354.0 L481.7 351.6 L482.2 349.3 L482.3 347.0 L482.2 344.6 L482.4 342.3 L482.2 340.0 L482.5 337.7 L482.0 335.4 L482.2 333.1 L482.4 330.8 L482.8 328.5 L482.6 326.2 L482.8 323.9 L482.4 321.6 L482.2 319.3 L482.2 317.0 L482.8 314.8 L482.6 312.5 L482.4 310.2 L483.3 307.2 L484.4 304.1 L484.4 301.6 L485.1 299.1 L485.6 296.6 L485.8 294.1 L486.1 291.7 L486.3 289.3 L487.0 286.9 L487.5 284.5 L487.4 282.1 L487.5 279.7 L487.7 277.3 L488.3 274.8 L488.7 272.4 L489.1 270.0 L489.5 267.4 L489.3 264.7 L489.9 262.0 L492.7 262.0 L492.7 264.7 L492.5 267.4 L492.1 270.0 L490.1 272.0 L489.9 274.4 L489.5 276.7 L490.0 279.1 L489.2 281.4 L489.5 283.7 L489.1 286.1 L488.5 288.4 L488.2 290.7 L488.4 293.0 L487.7 295.3 L488.0 297.5 L487.3 299.8 L487.0 302.1 L486.9 304.6 L487.0 307.2 L487.3 309.7 L487.4 312.2 L487.2 314.7 L487.1 317.2 L486.1 319.7 L486.0 322.2 L485.8 324.4 L485.6 326.7 L486.1 328.9 L485.3 331.1 L485.1 333.4 L485.0 335.6 L485.2 337.8 L485.5 340.0 L485.0 342.3 L485.4 344.6 L485.2 347.0 L485.4 349.3 L485.3 351.6 L484.7 354.0 L484.6 356.3 L485.2 358.7 L485.0 361.0 L484.3 363.3 L484.9 365.7 L484.6 368.0 L484.6 370.4Z M523.2 262.0 L526.2 262.0 L526.2 264.3 L526.2 266.6 L526.1 268.9 L526.1 271.2 L526.4 273.5 L526.6 275.8 L526.8 278.1 L527.3 280.3 L526.8 282.5 L527.7 284.7 L527.1 287.0 L527.4 289.2 L528.0 291.4 L528.2 293.7 L528.0 295.9 L528.2 298.1 L528.1 300.4 L528.7 302.7 L528.9 305.0 L529.7 307.3 L529.3 309.6 L529.8 311.9 L530.2 314.2 L530.8 316.5 L530.3 318.8 L531.0 321.1 L531.6 323.4 L531.9 325.6 L531.5 327.9 L532.2 330.2 L532.0 332.5 L532.2 334.8 L533.2 337.1 L532.8 339.4 L533.4 341.7 L533.8 344.0 L533.6 346.3 L533.5 349.0 L533.4 351.6 L533.6 354.3 L531.2 354.3 L531.4 351.6 L530.9 349.0 L530.6 346.3 L530.2 344.0 L530.4 341.8 L529.9 339.5 L529.7 337.3 L529.3 335.0 L529.8 332.7 L529.7 330.5 L529.2 328.2 L529.0 325.9 L529.1 323.5 L528.0 321.2 L527.9 318.9 L527.8 316.5 L527.6 314.2 L527.7 311.9 L527.5 309.7 L526.7 307.5 L526.3 305.3 L526.2 303.0 L526.0 300.8 L526.1 298.6 L525.2 296.3 L525.2 294.1 L525.3 291.9 L525.0 289.6 L524.9 287.4 L524.7 285.2 L524.4 283.0 L523.9 280.7 L523.8 278.5 L523.6 276.3 L523.6 274.0 L523.7 271.6 L523.0 269.2 L523.1 266.8 L523.5 264.4Z M574.1 370.4 L574.0 368.0 L573.8 365.7 L573.9 363.3 L574.4 361.0 L574.2 358.7 L574.9 356.3 L574.8 354.0 L575.0 351.6 L574.4 349.3 L574.3 347.0 L574.3 344.6 L574.7 342.3 L574.8 339.9 L575.0 337.5 L574.8 335.2 L574.6 332.8 L574.9 330.4 L575.1 328.0 L575.2 325.7 L575.3 323.3 L575.4 320.9 L575.3 318.6 L575.1 316.2 L575.9 313.2 L577.4 310.2 L577.9 307.9 L577.6 305.6 L578.0 303.3 L578.0 301.0 L578.6 298.7 L578.3 296.4 L578.8 294.1 L578.8 291.8 L579.1 289.5 L579.3 287.2 L580.2 284.9 L580.3 282.6 L580.3 280.3 L580.8 278.1 L581.1 275.6 L582.0 273.2 L582.0 270.8 L582.1 268.4 L582.8 266.0 L583.4 262.0 L585.8 262.0 L585.6 264.7 L585.0 267.4 L584.4 270.0 L584.4 272.4 L583.2 274.8 L583.1 277.3 L583.1 279.7 L582.4 282.1 L582.4 284.4 L582.2 286.7 L581.1 288.9 L581.0 291.2 L580.6 293.5 L580.4 295.8 L580.4 298.1 L580.5 300.4 L579.9 302.7 L579.9 305.0 L579.1 307.3 L579.3 309.6 L578.6 311.9 L578.4 314.2 L578.4 316.6 L579.2 319.0 L579.6 321.4 L579.1 323.8 L579.8 326.2 L577.8 329.2 L577.7 331.8 L577.5 334.4 L577.0 337.1 L577.0 339.7 L577.0 342.3 L576.6 344.6 L576.6 347.0 L576.6 349.3 L576.8 351.6 L576.8 354.0 L576.4 356.3 L576.2 358.7 L576.4 361.0 L576.7 363.3 L576.2 365.7 L576.2 368.0 L576.3 370.4Z M614.9 262.0 L618.5 262.0 L618.3 264.3 L619.0 266.6 L618.9 268.9 L618.5 271.2 L618.7 273.5 L619.1 275.8 L619.3 278.1 L619.5 280.3 L619.8 282.5 L619.5 284.7 L619.7 287.0 L620.4 289.2 L620.3 291.4 L620.3 293.7 L620.5 295.9 L620.9 298.1 L621.5 300.4 L621.2 302.6 L621.6 304.8 L621.7 307.0 L621.9 309.3 L622.6 311.5 L622.9 313.7 L622.5 316.0 L622.9 318.2 L622.9 320.5 L623.7 322.8 L623.5 325.1 L623.6 327.4 L624.7 329.7 L624.5 332.0 L624.9 334.2 L625.5 336.5 L625.4 338.8 L626.1 341.1 L626.0 343.4 L626.0 345.7 L626.2 348.0 L626.9 350.3 L628.0 352.8 L628.9 355.3 L627.1 356.8 L625.1 358.3 L625.2 356.1 L624.2 353.9 L624.5 351.6 L624.0 349.4 L623.9 347.2 L623.3 344.9 L623.2 342.7 L623.2 340.5 L622.9 338.3 L623.0 336.0 L622.0 333.7 L622.0 331.4 L622.0 329.1 L621.9 326.8 L620.9 324.5 L620.9 322.2 L620.3 320.0 L620.8 317.7 L620.6 315.5 L620.0 313.3 L619.4 311.1 L619.9 308.8 L619.2 306.6 L619.5 304.4 L618.9 302.1 L618.8 299.9 L618.8 297.7 L618.0 295.4 L618.4 293.2 L617.7 291.0 L617.7 288.8 L617.9 286.5 L617.8 284.3 L617.3 282.1 L615.3 282.1 L614.9 279.8 L614.9 277.6 L615.0 275.4 L615.1 273.1 L614.9 270.9 L614.7 268.7 L614.7 266.5 L615.1 264.2Z M665.8 370.4 L666.2 368.0 L665.5 365.7 L666.0 363.3 L666.3 361.0 L665.7 358.7 L666.4 356.3 L665.8 354.0 L666.3 351.6 L666.3 349.3 L666.5 347.0 L666.2 344.6 L666.4 342.3 L666.4 340.0 L666.5 337.7 L666.4 335.4 L666.6 333.1 L666.4 330.8 L666.4 328.5 L666.0 326.2 L666.5 323.9 L666.4 321.6 L666.2 319.3 L666.7 317.0 L666.7 314.8 L666.4 312.5 L666.4 310.2 L668.4 309.2 L668.6 306.8 L669.4 304.5 L669.9 302.1 L669.7 299.9 L669.9 297.7 L670.3 295.4 L670.2 293.2 L670.7 291.0 L670.9 288.8 L670.7 286.5 L671.4 284.3 L671.5 282.1 L671.6 279.7 L672.6 277.3 L673.2 274.8 L673.4 272.4 L673.9 270.0 L674.0 267.4 L674.9 264.7 L675.5 262.0 L677.5 262.0 L676.9 264.5 L676.9 267.0 L675.6 269.5 L675.5 272.0 L675.3 274.5 L674.9 277.1 L674.2 279.6 L673.5 282.1 L673.6 284.3 L672.9 286.5 L673.4 288.8 L672.8 291.0 L673.1 293.2 L672.9 295.4 L672.1 297.7 L672.5 299.9 L672.1 302.1 L672.2 304.4 L671.2 306.6 L671.3 308.8 L671.4 311.1 L670.6 313.3 L671.1 315.5 L670.3 317.7 L670.6 320.0 L670.1 322.2 L669.7 324.4 L669.9 326.7 L670.2 328.9 L669.5 331.1 L669.5 333.4 L669.7 335.6 L669.4 337.8 L669.1 340.0 L669.5 342.3 L669.1 344.6 L669.1 347.0 L669.7 349.3 L669.5 351.6 L669.6 354.0 L669.0 356.3 L669.5 358.7 L668.8 361.0 L669.2 363.3 L669.2 365.7 L669.0 368.0 L669.1 370.4Z M707.2 262.0 L711.2 262.0 L711.6 264.2 L711.3 266.5 L711.4 268.7 L711.7 270.9 L711.1 273.1 L711.9 275.4 L711.6 277.6 L711.5 279.8 L711.6 282.1 L712.0 284.3 L711.7 286.5 L712.6 288.8 L712.4 291.0 L712.4 293.2 L712.9 295.4 L712.8 297.7 L712.7 299.9 L713.2 302.1 L713.7 304.4 L713.3 306.7 L714.2 309.0 L713.9 311.3 L714.5 313.6 L715.0 315.9 L714.8 318.2 L715.1 320.5 L715.4 322.8 L715.2 325.1 L715.2 327.4 L715.4 329.7 L715.7 332.0 L716.2 334.2 L716.7 336.7 L717.0 339.1 L717.4 341.5 L718.2 343.9 L718.2 346.3 L718.6 348.6 L719.3 351.0 L720.2 353.3 L719.2 355.3 L717.8 357.3 L716.9 355.1 L716.5 352.9 L716.4 350.7 L715.7 348.5 L715.6 346.3 L715.1 343.9 L714.6 341.5 L714.5 339.1 L714.1 336.7 L713.6 334.2 L713.0 332.0 L713.1 329.7 L712.7 327.4 L712.1 325.1 L712.6 322.8 L711.7 320.5 L711.6 318.2 L711.0 315.9 L710.7 313.6 L710.9 311.3 L710.8 309.0 L710.4 306.7 L709.8 304.4 L709.6 302.1 L709.1 299.8 L708.6 297.5 L708.9 295.3 L708.5 293.0 L708.0 290.7 L708.0 288.4 L707.6 286.1 L707.5 283.7 L707.9 281.3 L707.7 278.9 L707.2 276.4 L707.7 274.0 L706.9 271.6 L707.3 269.2 L707.2 266.8 L707.0 264.4Z M758.2 374.4 L757.8 372.1 L758.5 369.8 L757.8 367.5 L758.4 365.2 L758.8 362.9 L758.1 360.6 L758.2 358.3 L758.6 356.0 L758.5 353.7 L758.7 351.4 L758.9 349.2 L758.4 346.9 L758.5 344.6 L758.8 342.3 L758.6 340.1 L758.4 337.9 L759.2 335.7 L759.2 333.4 L759.2 331.2 L758.6 329.0 L759.3 326.8 L759.3 324.6 L759.1 322.4 L759.4 320.2 L759.2 318.0 L759.0 315.8 L758.9 313.6 L759.1 311.4 L759.4 309.2 L761.4 308.2 L761.2 305.8 L761.7 303.5 L762.3 301.1 L762.5 298.8 L762.8 296.5 L762.8 294.1 L763.2 291.8 L763.1 289.5 L763.7 287.2 L763.9 284.9 L764.5 282.6 L764.5 280.3 L764.8 278.1 L765.0 275.6 L765.7 273.2 L766.4 270.8 L766.1 268.4 L766.8 266.0 L767.8 262.0 L770.4 262.0 L770.1 264.7 L768.6 267.4 L768.4 270.0 L767.9 272.4 L767.6 274.8 L767.8 277.3 L767.7 279.7 L767.0 282.1 L767.0 284.4 L766.4 286.7 L766.6 288.9 L765.9 291.2 L765.6 293.5 L766.0 295.8 L765.4 298.1 L765.2 300.4 L765.0 302.7 L764.7 305.0 L764.7 307.3 L763.9 309.6 L764.0 311.9 L763.4 314.2 L763.4 316.4 L763.3 318.6 L762.8 320.9 L762.9 323.1 L762.5 325.3 L762.1 327.6 L761.9 329.8 L762.1 332.0 L761.8 334.2 L761.2 336.7 L761.8 339.1 L761.0 341.5 L760.7 343.9 L761.0 346.3 L760.6 348.6 L761.3 351.0 L760.7 353.3 L760.4 355.7 L760.3 358.0 L760.3 360.3 L760.8 362.7 L760.7 365.0 L760.7 367.4 L760.7 369.7 L760.0 372.0 L760.4 374.4Z M799.5 262.0 L802.5 262.0 L802.6 264.2 L802.5 266.5 L803.0 268.7 L803.0 270.9 L803.2 273.1 L802.5 275.4 L803.3 277.6 L803.4 279.8 L803.1 282.1 L803.7 284.4 L803.1 286.7 L803.4 288.9 L803.5 291.2 L803.7 293.5 L804.6 295.8 L804.5 298.1 L805.0 300.4 L805.1 302.7 L805.5 305.0 L805.5 307.3 L805.4 309.6 L805.5 311.9 L806.1 314.2 L806.0 316.5 L806.8 318.8 L806.5 321.1 L806.8 323.4 L807.2 325.6 L807.0 327.9 L807.7 330.2 L808.0 332.7 L808.5 335.2 L809.4 337.8 L809.7 340.3 L810.1 342.6 L810.5 344.9 L811.1 347.3 L814.0 348.3 L816.1 349.3 L816.1 353.3 L814.7 355.6 L813.5 357.8 L811.9 360.1 L810.3 362.3 L809.0 359.3 L808.5 356.3 L808.1 354.0 L807.8 351.6 L807.7 349.3 L807.0 347.0 L807.0 344.6 L806.5 342.3 L806.2 340.0 L805.7 337.7 L806.0 335.4 L805.0 333.1 L805.3 330.8 L804.5 328.5 L804.5 326.2 L803.7 323.9 L803.5 321.5 L803.7 319.2 L803.6 316.9 L802.4 314.5 L802.5 312.2 L802.3 309.9 L802.2 307.7 L802.4 305.4 L801.7 303.1 L801.8 300.9 L801.6 298.6 L801.9 296.4 L801.5 294.1 L801.0 291.7 L801.3 289.3 L800.4 286.9 L800.1 284.5 L800.1 282.1 L800.2 279.8 L799.9 277.6 L799.5 275.4 L799.9 273.1 L799.4 270.9 L799.9 268.7 L799.8 266.5 L799.8 264.2Z" fill="#000"/>
<path d="M9 289.2 H39.3 L53 303 L39.3 316.8 H9 Z" fill="#000"/></svg>
<div class="t" id="ch"><span class="t s">CH1</span></div>
<div class="t s" id="mv">2.0mV</div>
<div class="t s" id="tb">M2.000µs</div>
<div class="t" id="one">1</div>
<div class="t" id="id">11426-003</div>
</body></html>
